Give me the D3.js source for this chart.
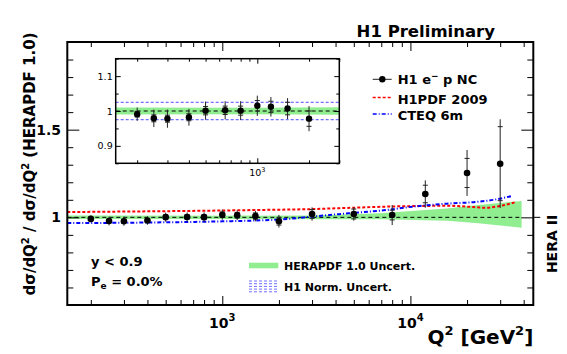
<!DOCTYPE html>
<html><head><meta charset="utf-8">
<script src="https://cdn.jsdelivr.net/npm/d3@7"></script>
<style>body{margin:0;background:#fff} svg{display:block} text{font-family:"DejaVu Sans",sans-serif}</style>
</head><body><svg id="c" width="567" height="354"></svg>
<script>
// ---- data ----
const q2      = [200, 250, 300, 400, 500, 650, 800, 1000, 1200, 1500, 2000, 3000, 5000, 8000, 12000, 20000, 30000];
const ratio   = [0.991, 0.979, 0.978, 0.982, 1.001, 1.002, 1.001, 1.015, 1.012, 1.007, 0.978, 1.019, 1.019, 1.013, 1.133, 1.253, 1.306];
const errTot  = [0.019, 0.025, 0.026, 0.024, 0.026, 0.026, 0.027, 0.029, 0.028, 0.030, 0.036, 0.038, 0.038, 0.057, 0.078, 0.131, 0.253];
const errStat = [0.008, 0.010, 0.010, 0.010, 0.012, 0.012, 0.013, 0.015, 0.016, 0.018, 0.022, 0.025, 0.028, 0.028, 0.050, 0.083, 0.211];
const h1pdfQ2 = [150, 300, 600, 1000, 1600, 3000, 5000, 8000, 12000, 16000, 20000, 25000, 29000, 36000];
const h1pdf   = [1.030, 1.033, 1.036, 1.039, 1.042, 1.047, 1.055, 1.062, 1.065, 1.066, 1.061, 1.055, 1.062, 1.086];
const cteqQ2  = [150, 450, 1000, 1600, 2100, 3200, 4700, 7200, 10500, 15600, 23000, 28800, 35000];
const cteq    = [0.967, 0.971, 0.977, 0.983, 0.989, 1.007, 1.023, 1.040, 1.062, 1.078, 1.089, 1.103, 1.123];
const bandQ2  = [150, 1000, 3000, 6900, 15600, 23000, 39000];
const bandHi  = [1.010, 1.009, 1.011, 1.023, 1.051, 1.070, 1.093];
const bandLo  = [0.990, 0.991, 0.989, 0.989, 0.981, 0.966, 0.941];
const normUnc = 0.025;
const xMinor = [200,300,400,500,600,700,800,900,2000,3000,4000,5000,6000,7000,8000,9000,20000,30000,40000];
const xMajor = [1000, 10000];
const xLabelExp = ["3", "4"];
const yMinor = [0.6,0.7,0.8,0.9,1.1,1.2,1.3,1.4,1.6,1.7,1.8,1.9];
const yMajor = [0.5, 1, 1.5, 2];
const yLabels = [1, 1.5];
const inXMinor = [200,300,400,500,600,700,800,900,2000,3000];
const inXMajor = [1000];
const inYMinor = [0.85, 0.95, 1.05, 1.15];
const inYMajor = [0.9, 1.0, 1.1];
const inYLabels = ["0.9", "1", "1.1"];

// ---- setup ----
const svg = d3.select("#c");
const L = 67.3, R = 533.3, T = 42, B = 305;
const x = d3.scaleLog().domain([150, 45000]).range([L, R]);
const y = d3.scaleLinear().domain([0.5, 2.0]).range([B, T]);
const iL = 115.7, iR = 339.3, iT = 58.7, iB = 163.3;
const xi = d3.scaleLog().domain([150, 3000]).range([iL, iR]);
const yi = d3.scaleLinear().domain([0.85, 1.15]).range([iB, iT]);

const pts = q2.map((q,i)=>({q, r:ratio[i], et:errTot[i], es:errStat[i]}));
const band = bandQ2.map((q,i)=>({q, hi:bandHi[i], lo:bandLo[i]}));

function drawPlot(g, xs, ys, opts){
  const [x0,x1] = xs.range();
  g.append("path").datum(band)
    .attr("fill","#90ee90")
    .attr("d", d3.area().x(d=>xs(d.q)).y0(d=>ys(d.lo)).y1(d=>ys(d.hi)));
  g.append("line").attr("x1", x0).attr("x2", opts.inset ? x1 : xs(bandQ2[bandQ2.length-1]))
    .attr("y1", ys(1)).attr("y2", ys(1)).attr("stroke","#000").attr("stroke-width",1).attr("stroke-dasharray","4,3");
  if (opts.inset){
    [1+normUnc, 1-normUnc].forEach(v=>{
      g.append("line").attr("x1", x0).attr("x2", x1).attr("y1", ys(v)).attr("y2", ys(v))
        .attr("stroke","#4d4dff").attr("stroke-width",1).attr("stroke-dasharray","3,2");
    });
  } else {
    g.append("path").datum(h1pdfQ2.map((q,i)=>[q,h1pdf[i]]))
      .attr("fill","none").attr("stroke","#ff0000").attr("stroke-width",2).attr("stroke-dasharray","3,2")
      .attr("d", d3.line().x(d=>xs(d[0])).y(d=>ys(d[1])).curve(d3.curveMonotoneX));
    g.append("path").datum(cteqQ2.map((q,i)=>[q,cteq[i]]))
      .attr("fill","none").attr("stroke","#0000ff").attr("stroke-width",2).attr("stroke-dasharray","4,2,1,2")
      .attr("d", d3.line().x(d=>xs(d[0])).y(d=>ys(d[1])).curve(d3.curveMonotoneX));
  }
  const P = pts.filter(d=>d.q < xs.domain()[1]);
  const eb = g.append("g").attr("stroke","#222").attr("stroke-width",1);
  P.forEach(d=>{
    const cx = xs(d.q);
    eb.append("line").attr("x1",cx).attr("x2",cx).attr("y1",ys(d.r-d.et)).attr("y2",ys(d.r+d.et));
    [d.r-d.es, d.r+d.es].forEach(v=>eb.append("line").attr("x1",cx-2.5).attr("x2",cx+2.5).attr("y1",ys(v)).attr("y2",ys(v)));
  });
  g.append("g").selectAll("circle").data(P).join("circle")
    .attr("cx",d=>xs(d.q)).attr("cy",d=>ys(d.r)).attr("r",opts.inset?3.2:3.3).attr("fill","#000");
}

// main plot
const gm = svg.append("g");
drawPlot(gm, x, y, {inset:false});

function ticks(axisFn, scale, vals, size, tr){
  const a = axisFn(scale).tickValues(vals).tickSize(size).tickSizeOuter(0).tickFormat("");
  const g = svg.append("g").attr("transform", tr).call(a);
  g.select(".domain").remove();
  g.selectAll("line").attr("stroke","#000").attr("stroke-width",1);
  return g;
}
ticks(d3.axisBottom, x, xMinor, -5, `translate(0,${B})`);
ticks(d3.axisBottom, x, xMajor, -9, `translate(0,${B})`);
ticks(d3.axisTop, x, xMinor, -5, `translate(0,${T})`);
ticks(d3.axisTop, x, xMajor, -9, `translate(0,${T})`);
ticks(d3.axisLeft, y, yMinor, -6, `translate(${L},0)`);
ticks(d3.axisLeft, y, yMajor, -12, `translate(${L},0)`);
ticks(d3.axisRight, y, yMinor, -6, `translate(${R},0)`);
ticks(d3.axisRight, y, yMajor, -12, `translate(${R},0)`);
svg.append("line").attr("x1",R).attr("x2",R+7).attr("y1",y(1)).attr("y2",y(1)).attr("stroke","#000");
svg.append("rect").attr("x",L).attr("y",T).attr("width",R-L).attr("height",B-T)
  .attr("fill","none").attr("stroke","#000").attr("stroke-width",2);

// inset
svg.append("rect").attr("x",iL).attr("y",iT).attr("width",iR-iL).attr("height",iB-iT).attr("fill","#fff");
const gi = svg.append("g");
gi.append("clipPath").attr("id","ic").append("rect").attr("x",iL).attr("y",iT).attr("width",iR-iL).attr("height",iB-iT);
const gic = gi.append("g").attr("clip-path","url(#ic)");
drawPlot(gic, xi, yi, {inset:true});
ticks(d3.axisBottom, xi, inXMinor, -3, `translate(0,${iB})`);
ticks(d3.axisBottom, xi, inXMajor, -5, `translate(0,${iB})`);
ticks(d3.axisTop, xi, inXMinor, -3, `translate(0,${iT})`);
ticks(d3.axisTop, xi, inXMajor, -5, `translate(0,${iT})`);
ticks(d3.axisLeft, yi, inYMinor, -3, `translate(${iL},0)`);
ticks(d3.axisLeft, yi, inYMajor, -5, `translate(${iL},0)`);
ticks(d3.axisRight, yi, inYMinor, -3, `translate(${iR},0)`);
ticks(d3.axisRight, yi, inYMajor, -5, `translate(${iR},0)`);
svg.append("rect").attr("x",iL).attr("y",iT).attr("width",iR-iL).attr("height",iB-iT)
  .attr("fill","none").attr("stroke","#000").attr("stroke-width",1.5);
inYMajor.forEach((v,i)=>{
  svg.append("text").attr("x",iL-3).attr("y",yi(v)+3.5).attr("text-anchor","end")
    .attr("font-size",9.5).text(inYLabels[i]);
});
{
  const t = svg.append("text").attr("x",xi(1000)).attr("y",175.5).attr("text-anchor","middle").attr("font-size",9.5);
  t.append("tspan").text("10");
  t.append("tspan").attr("font-size",6.5).attr("dy",-4).text("3");
}

// main tick labels
yLabels.forEach(v=>{
  svg.append("text").attr("x",61).attr("y",y(v)+5).attr("text-anchor","end")
    .attr("font-size",14).attr("font-weight","bold").text(String(v));
});
xMajor.forEach((v,i)=>{
  const t = svg.append("text").attr("x",x(v)).attr("y",327.5).attr("text-anchor","middle")
    .attr("font-size",14).attr("font-weight","bold");
  t.append("tspan").text("10");
  t.append("tspan").attr("font-size",10).attr("dy",-7).text(xLabelExp[i]);
});

// axis titles
{
  const t = svg.append("text").attr("x",R).attr("y",343.5).attr("text-anchor","end")
    .attr("font-size",20).attr("font-weight","bold");
  t.append("tspan").text("Q");
  t.append("tspan").attr("font-size",13).attr("dy",-9).text("2");
  t.append("tspan").attr("dy",9).text(" [GeV");
  t.append("tspan").attr("font-size",13).attr("dy",-9).text("2");
  t.append("tspan").attr("dy",9).text("]");
}
{
  const t = svg.append("text").attr("transform","translate(35,164) rotate(-90)").attr("text-anchor","middle")
    .attr("font-size",15).attr("font-weight","bold");
  t.append("tspan").text("dσ/dQ");
  t.append("tspan").attr("font-size",10).attr("dy",-6).text("2");
  t.append("tspan").attr("dy",6).text(" / dσ/dQ");
  t.append("tspan").attr("font-size",10).attr("dy",-6).text("2");
  t.append("tspan").attr("dy",6).text(" (HERAPDF 1.0)");
}
svg.append("text").attr("transform","translate(556.5,244) rotate(-90)").attr("text-anchor","middle")
  .attr("font-size",14).attr("font-weight","bold").text("HERA II");
svg.append("text").attr("x",495).attr("y",37).attr("text-anchor","end")
  .attr("font-size",16.5).attr("font-weight","bold").text("H1 Preliminary");

// kinematic texts
svg.append("text").attr("x",91).attr("y",265.7).attr("font-size",13).attr("font-weight","bold").text("y < 0.9");
{
  const t = svg.append("text").attr("x",91).attr("y",286).attr("font-size",13).attr("font-weight","bold");
  t.append("tspan").text("P");
  t.append("tspan").attr("font-size",9).attr("dy",3).text("e");
  t.append("tspan").attr("dy",-3).text(" = 0.0%");
}

// top-right legend
const lg = svg.append("g").attr("font-weight","bold").attr("font-size",13);
lg.append("line").attr("x1",372.7).attr("x2",391.7).attr("y1",79.3).attr("y2",79.3).attr("stroke","#222");
lg.append("circle").attr("cx",382.3).attr("cy",79.3).attr("r",3.2).attr("fill","#000");
{
  const t = lg.append("text").attr("x",397.7).attr("y",84);
  t.append("tspan").text("H1 e");
  t.append("tspan").attr("font-size",9).attr("dy",-5).text("−");
  t.append("tspan").attr("dy",5).text(" p NC");
}
lg.append("line").attr("x1",372.7).attr("x2",391.7).attr("y1",97.5).attr("y2",97.5)
  .attr("stroke","#ff0000").attr("stroke-width",1.5).attr("stroke-dasharray","3,2");
lg.append("text").attr("x",397.7).attr("y",104).text("H1PDF 2009");
lg.append("line").attr("x1",372.7).attr("x2",391.7).attr("y1",114).attr("y2",114)
  .attr("stroke","#0000ff").attr("stroke-width",1.5).attr("stroke-dasharray","4,2,1,2");
lg.append("text").attr("x",397.7).attr("y",120).text("CTEQ 6m");

// bottom legend
const bl = svg.append("g").attr("font-weight","bold").attr("font-size",11);
bl.append("rect").attr("x",249).attr("y",262.7).attr("width",29.3).attr("height",5.6).attr("fill","#90ee90");
bl.append("text").attr("x",284).attr("y",270).text("HERAPDF 1.0 Uncert.");
[281,283.7,286.4,289.1,291.8].forEach(v=>{
  bl.append("line").attr("x1",249).attr("x2",278.3).attr("y1",v).attr("y2",v)
    .attr("stroke","#4d4dff").attr("stroke-width",0.8).attr("stroke-dasharray","3,2");
});
bl.append("text").attr("x",284).attr("y",290.7).text("H1 Norm. Uncert.");
</script></body></html>
